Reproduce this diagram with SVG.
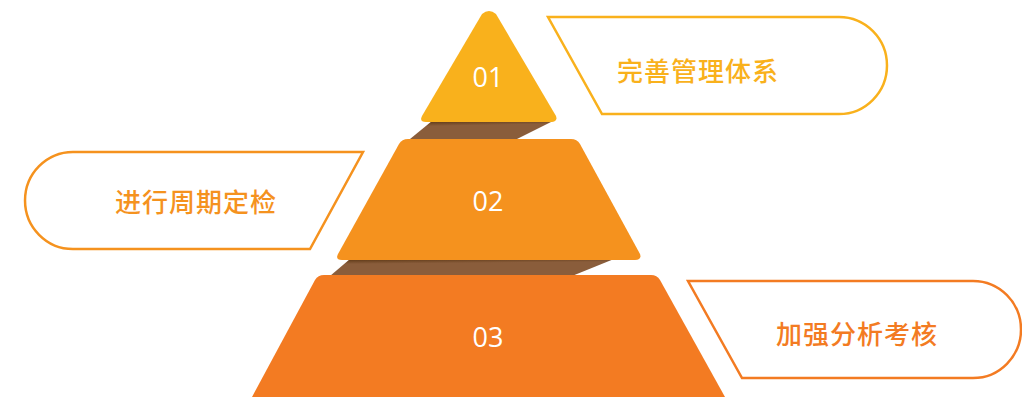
<svg xmlns="http://www.w3.org/2000/svg" width="1022" height="397" viewBox="0 0 1022 397">
<style>
.num{font-family:"Open Sans","Noto Sans",sans-serif;font-size:27px;font-weight:500;fill:#fff;text-anchor:middle;dominant-baseline:central}
.lbl{font-family:"Noto Sans CJK SC","Noto Sans",sans-serif;font-size:26px;font-weight:500;letter-spacing:1px;text-anchor:middle;dominant-baseline:central}
.box{fill:#fff;stroke-width:2.5}
</style>
<defs>
<linearGradient id="sh" x1="0" y1="0" x2="0.15" y2="1">
<stop offset="0" stop-color="#5a3512"/>
<stop offset="0.3" stop-color="#8a5d3b"/>
<stop offset="1" stop-color="#8a5d3b"/>
</linearGradient>
</defs>
<g id="shadows">
<polygon points="432,121 553,121 517,139 410,139" fill="url(#sh)"/>
<polygon points="350,259 614,259 572,276 330,276" fill="url(#sh)"/>
</g>
<g id="tier1">
<path d="M482,14 Q489,8 496,14 L556,116 Q558,122 551,122 L426,122 Q419,122 422,116 Z" fill="#f9b11c"/>
<text class="num" x="488" y="76">01</text>
</g>
<g id="tier2">
<path d="M408,139 L571,139 Q577,139 580,144 L640,254 Q642,260 635,260 L342,260 Q335,260 338,254 L399,144 Q402,139 408,139 Z" fill="#f5921e"/>
<text class="num" x="488" y="200">02</text>
</g>
<g id="tier3">
<path d="M324,275 L651,275 Q657,275 660,280 L725,397 L252,397 L315,280 Q318,275 324,275 Z" fill="#f37b22"/>
<text class="num" x="488" y="336">03</text>
</g>
<g id="label1">
<path class="box" d="M548,17 L839,17 A48,48.5 0 0 1 839,114 L602,114 Z" stroke="#f9b11c"/>
<text class="lbl" x="698" y="69" fill="#f9b11c">完善管理体系</text>
</g>
<g id="label2">
<path class="box" d="M363,152 L73,152 A48,48.5 0 0 0 73,249 L310,249 Z" stroke="#f5921e"/>
<text class="lbl" x="196" y="200" fill="#f5921e">进行周期定检</text>
</g>
<g id="label3">
<path class="box" d="M688,281 L973,281 A48,48.5 0 0 1 973,378 L742,378 Z" stroke="#f37b22"/>
<text class="lbl" x="857" y="332" fill="#f37b22">加强分析考核</text>
</g>
</svg>
